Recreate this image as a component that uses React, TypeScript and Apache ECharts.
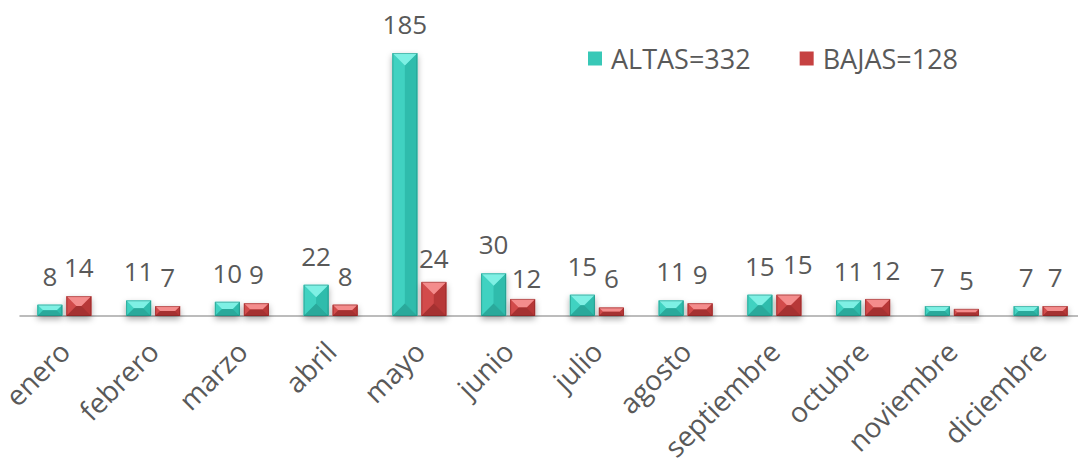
import React, { useEffect, useRef } from "react";
import * as echarts from "echarts";

const months = ["enero", "febrero", "marzo", "abril", "mayo", "junio", "julio", "agosto", "septiembre", "octubre", "noviembre", "diciembre"];
const altas = [8, 11, 10, 22, 185, 30, 15, 11, 15, 11, 7, 7];
const bajas = [14, 7, 9, 8, 24, 12, 6, 9, 15, 12, 5, 7];
const altasName = "ALTAS=332";
const bajasName = "BAJAS=128";

// manual label nudges seen in the reference (style only)
const altasLabelNudge: [number, number][] = months.map(() => [0, 0]);
const bajasLabelNudge: [number, number][] = months.map((_, i) =>
  i === 4 ? [0, 5] : i === 5 ? [4, 8] : i === 8 ? [9, -2] : i === 9 ? [8, 0] : [0, 0]
);

const FONT = "'Open Sans', sans-serif";
const TEXT = "#595959";

const palettes = {
  altas: { top: "#7ef0e4", left: "#40d2c1", right: "#2fbcac", bottom: "#2aa99b", base: "#38c8b7", edge: "#1b7d72" },
  bajas: { top: "#f48c8c", left: "#d24b4b", right: "#b73838", bottom: "#a53131", base: "#c64141", edge: "#7c1f1f" },
};

function makeRender(offset: number, pal: any, nudges: [number, number][]) {
  return (params: any, api: any) => {
    const i = api.value(0);
    const v = api.value(1);
    const top = api.coord([i, v]);
    const base = api.coord([i, 0]);
    const w = 25;
    const cx = top[0] + offset;
    const x0 = cx - w / 2;
    const x1 = cx + w / 2;
    const y0 = top[1];
    const y1 = base[1];
    const h = y1 - y0;
    const d = Math.min(w / 2, h / 2);
    const nd = nudges[i] || [0, 0];
    return {
      type: "group",
      children: [
        {
          type: "rect",
          shape: { x: x0, y: y0, width: w, height: h },
          style: { fill: pal.base, shadowColor: "rgba(0,0,0,0.35)", shadowBlur: 6, shadowOffsetY: 3 },
        },
        { type: "polygon", shape: { points: [[x0, y0], [x0 + d, y0 + d], [x0 + d, y1 - d], [x0, y1]] }, style: { fill: pal.left } },
        { type: "polygon", shape: { points: [[x1, y0], [x1 - d, y0 + d], [x1 - d, y1 - d], [x1, y1]] }, style: { fill: pal.right } },
        { type: "polygon", shape: { points: [[x0, y0], [x1, y0], [x1 - d, y0 + d], [x0 + d, y0 + d]] }, style: { fill: pal.top } },
        { type: "polygon", shape: { points: [[x0, y1], [x1, y1], [x1 - d, y1 - d], [x0 + d, y1 - d]] }, style: { fill: pal.bottom } },
        {
          type: "rect",
          shape: { x: x0 + 0.5, y: y0 + 0.5, width: w - 1, height: h - 1 },
          style: { fill: "none", stroke: pal.edge, lineWidth: 1, opacity: 0.45 },
        },
        {
          type: "text",
          style: {
            text: String(v),
            x: cx + nd[0],
            y: y0 - 29 + nd[1],
            textAlign: "center",
            textVerticalAlign: "middle",
            fill: TEXT,
            font: `26px ${FONT}`,
          },
        },
      ],
    };
  };
}

export default function App() {
  const ref = useRef<HTMLDivElement>(null);
  useEffect(() => {
    document.body.style.margin = "0";
    const chart = echarts.init(ref.current!, null, { renderer: "svg" });
    chart.setOption({
      animation: false,
      textStyle: { fontFamily: FONT },
      grid: { left: 20, right: -7, top: 31.7, bottom: 144, containLabel: false, outerBoundsMode: "none" },
      legend: {
        left: 583,
        top: 40,
        itemWidth: 14,
        itemHeight: 14,
        itemGap: 49,
        icon: "rect",
        textStyle: { fontSize: 27, color: TEXT, fontFamily: FONT, padding: [0, 0, 0, 4] },
        data: [
          { name: altasName, itemStyle: { color: palettes.altas.base } },
          { name: bajasName, itemStyle: { color: palettes.bajas.base } },
        ],
      },
      xAxis: {
        type: "category",
        data: months,
        axisLine: { lineStyle: { color: "#a6a6a6", width: 1.5 } },
        axisTick: { show: false },
        axisLabel: { rotate: 45, fontSize: 28, color: TEXT, fontFamily: FONT, margin: 30, interval: 0 },
      },
      yAxis: { type: "value", min: 0, max: 200, show: false, splitLine: { show: false } },
      series: [
        {
          name: altasName,
          type: "custom",
          itemStyle: { color: palettes.altas.base },
          renderItem: makeRender(-14.5, palettes.altas, altasLabelNudge),
          encode: { x: 0, y: 1 },
          data: altas.map((v, i) => [i, v]),
        },
        {
          name: bajasName,
          type: "custom",
          itemStyle: { color: palettes.bajas.base },
          renderItem: makeRender(14.5, palettes.bajas, bajasLabelNudge),
          encode: { x: 0, y: 1 },
          data: bajas.map((v, i) => [i, v]),
        },
      ],
    });
    return () => chart.dispose();
  }, []);
  return <div ref={ref} style={{ width: 1078, height: 460 }} />;
}
